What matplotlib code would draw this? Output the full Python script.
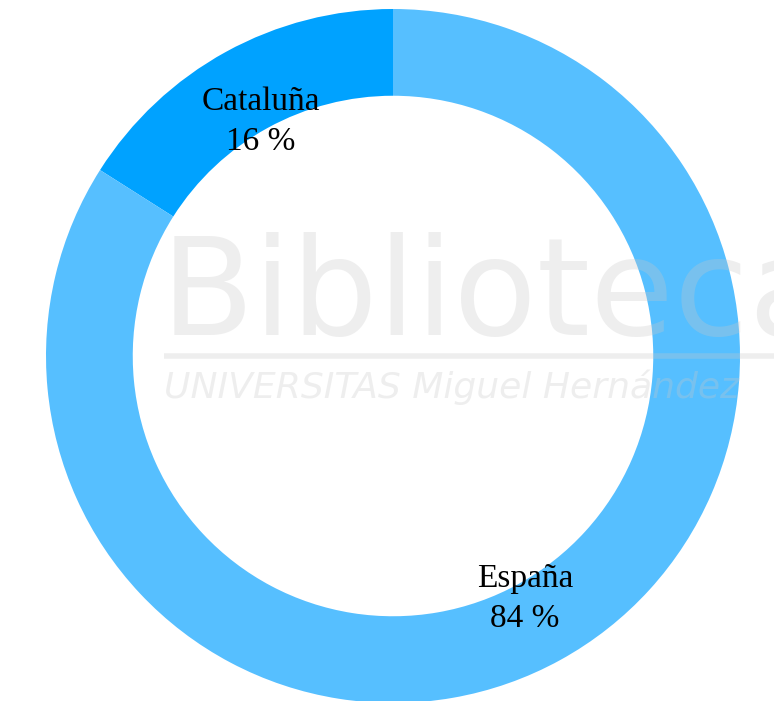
import matplotlib
matplotlib.use("Agg")
import matplotlib.pyplot as plt

labels = ["Cataluña", "España"]
values = [16, 84]
colors = ["#00A2FF", "#56BFFF"]

fig = plt.figure(figsize=(7.74, 7.01), dpi=100)
ax = fig.add_axes([0, 0, 1, 1])

# donut
wedges, _ = ax.pie(values, colors=colors, startangle=90, counterclock=True,
                   radius=1.0, wedgeprops=dict(width=0.25, linewidth=0))

# etiquetas
serif = "Liberation Serif"
label_pos = [(-0.38, 0.675), (0.38, -0.70)]
for lab, v, (x, y) in zip(labels, values, label_pos):
    ax.text(x, y, f"{lab}\n{v} %", ha="center", va="center", fontsize=24,
            family=serif, linespacing=1.38, color="black", zorder=5)

# marca de agua
wm = dict(color="#c8c8c8", alpha=0.3, zorder=4)
ax.text(-0.67, 0.06, "Biblioteca", fontsize=98, family="DejaVu Sans",
        ha="left", va="baseline", **wm)
ax.plot([-0.66, 1.2], [0.0, 0.0], lw=4, solid_capstyle="butt", **wm)
ax.text(-0.66, -0.12, "UNIVERSITAS Miguel Hernández", fontsize=26,
        family="DejaVu Sans", ha="left", va="baseline", style="italic", **wm)

ax.set_xlim(-393 / 347, (774 - 393) / 347)
ax.set_ylim(-(701 - 356) / 347, 356 / 347)
ax.set_aspect("auto")
ax.axis("off")

fig.savefig("out.png", dpi=100)
